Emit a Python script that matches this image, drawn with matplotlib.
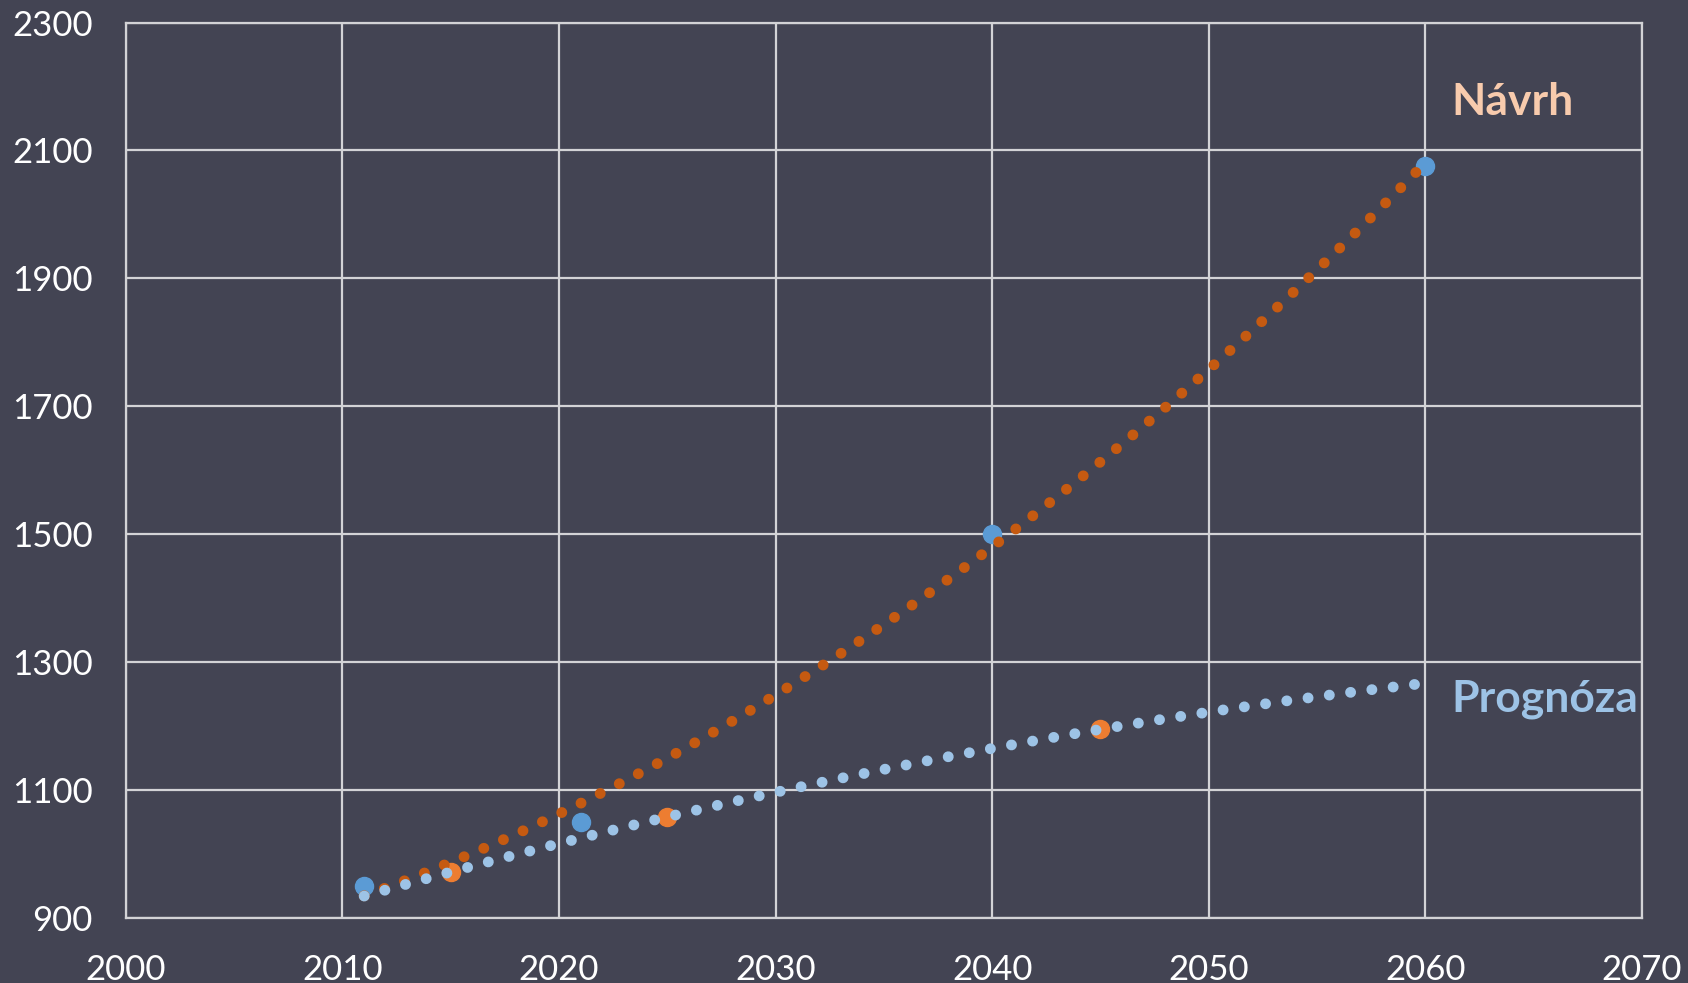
import numpy as np
import matplotlib
matplotlib.use("Agg")
import matplotlib.pyplot as plt

plt.rcParams['font.family'] = ['Lato', 'DejaVu Sans']

# data points
navrh_years = [2011, 2021, 2040, 2060]
navrh_vals = [950, 1050, 1500, 2075]
prog_years = [2015, 2025, 2045]
prog_vals = [972, 1058, 1195]

x_ticks = [2000, 2010, 2020, 2030, 2040, 2050, 2060, 2070]
y_ticks = [900, 1100, 1300, 1500, 1700, 1900, 2100, 2300]

trend_start = 2011
trend_end = 2060

bg = '#434453'
grid_c = '#d3d3d6'

fig = plt.figure(figsize=(16.88, 9.83), dpi=100, facecolor=bg)
ax = fig.add_axes([0.0746, 0.0661, 0.8981, 0.911])
ax.set_facecolor(bg)

# polynomial trendlines (2nd order) like the spreadsheet chart
xs = np.linspace(trend_start, trend_end, 400)
p_navrh = np.polyfit(navrh_years, navrh_vals, 2)
p_prog = np.polyfit(prog_years, prog_vals, 2)

ax.plot(navrh_years, navrh_vals, 'o', color='#5B9BD5', ms=13, zorder=3)
ax.plot(prog_years, prog_vals, 'o', color='#ED7D31', ms=13, zorder=3)

dots = (0, (0.01, 1.97))
ax.plot(xs, np.polyval(p_navrh, xs), color='#C55A11', lw=7.8,
        linestyle=dots, dash_capstyle='round', zorder=4)
ax.plot(xs, np.polyval(p_prog, xs), color='#9DC3E6', lw=7.8,
        linestyle=dots, dash_capstyle='round', zorder=4)

ax.set_xlim(2000, 2070)
ax.set_ylim(900, 2300)
ax.set_xticks(x_ticks)
ax.set_yticks(y_ticks)
ax.grid(True, color=grid_c, lw=1.6, zorder=1)
ax.set_axisbelow(True)
for s in ax.spines.values():
    s.set_color(grid_c)
    s.set_linewidth(1.6)
ax.tick_params(length=0, colors='white', labelsize=25)
ax.tick_params(axis='x', pad=26)
ax.tick_params(axis='y', pad=24)

ax.text(2061.2, 2175, 'Návrh', color='#F8CBAD', fontsize=32,
        fontweight='bold', va='center', ha='left')
ax.text(2061.2, 1242, 'Prognóza', color='#9DC3E6', fontsize=32,
        fontweight='bold', va='center', ha='left')

fig.savefig('out.png', dpi=100, facecolor=bg)
